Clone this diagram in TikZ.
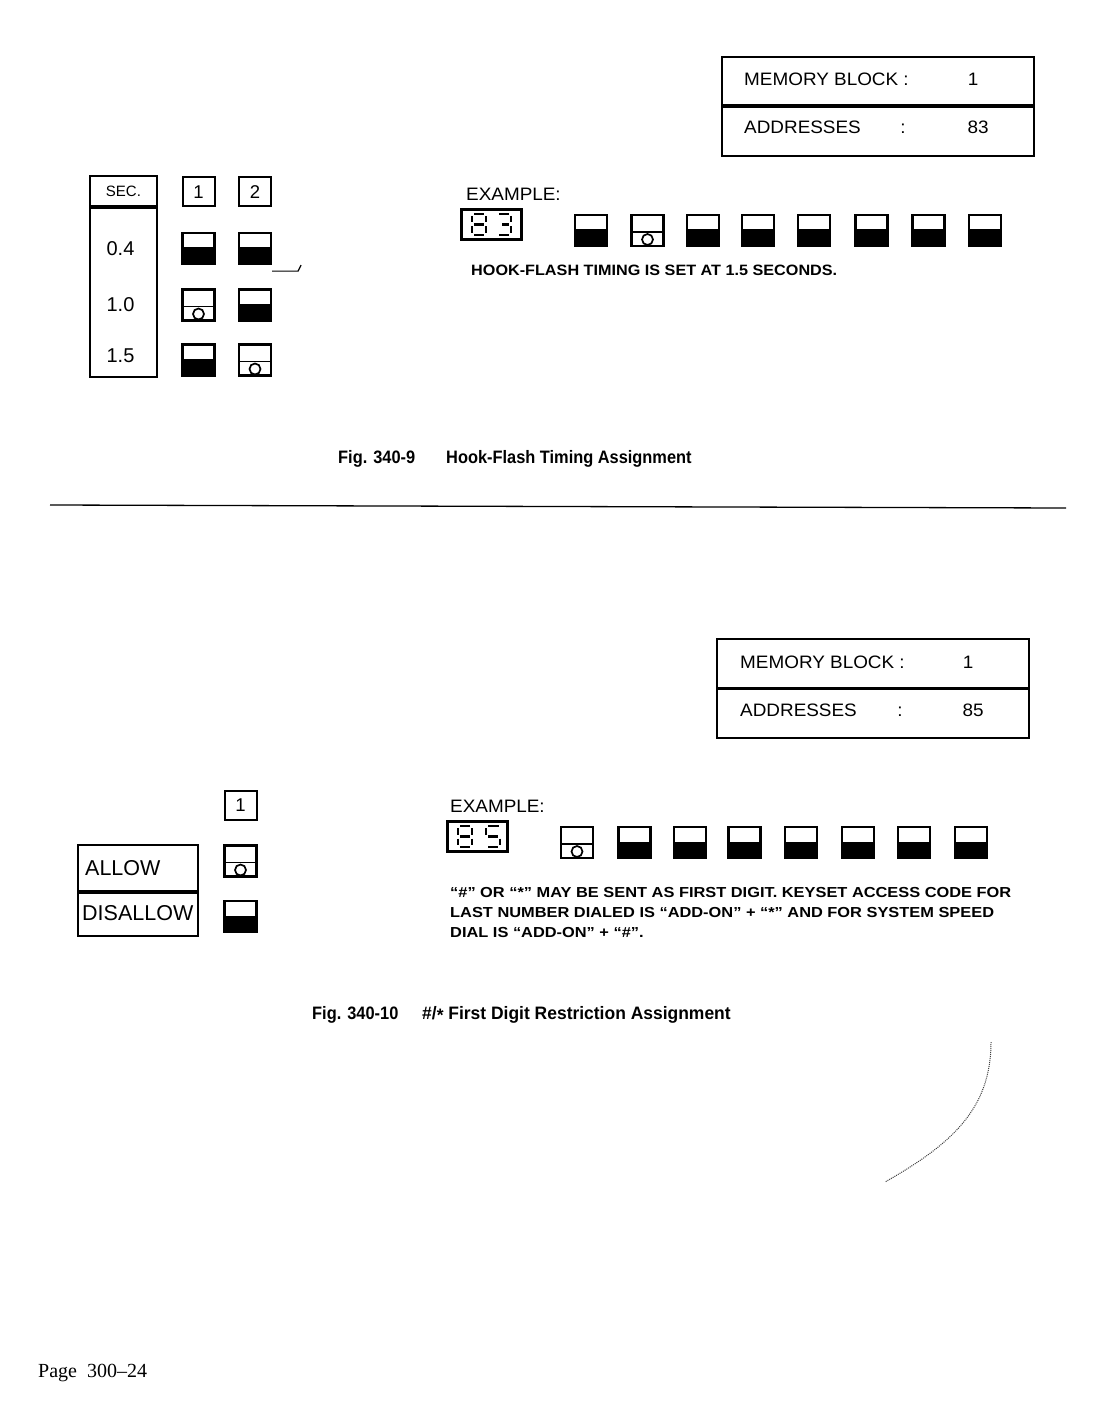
\documentclass[tikz,border=0pt]{standalone}
\usepackage{fontspec}
\setmainfont{Liberation Sans}
\newfontfamily\serifpage{Liberation Serif}
\usetikzlibrary{positioning}

\begin{document}
\begin{tikzpicture}[
  x=1pt, y=-1pt,
  every node/.style={inner sep=0pt},
  lbl/.style={font=\fontsize{18}{21}\selectfont\addfontfeature{FakeStretch=1.05}},
  secval/.style={font=\fontsize{20}{23}\selectfont},
  bigl/.style={font=\fontsize{21.5}{24}\selectfont},
  note/.style={font=\bfseries\fontsize{15}{18}\selectfont\addfontfeature{FakeStretch=1.08}},
  notesm/.style={font=\bfseries\fontsize{14.5}{17}\selectfont\addfontfeature{FakeStretch=1.13}},
  figcap/.style={font=\bfseries\fontsize{18}{21}\selectfont\addfontfeature{FakeStretch=0.91}},
  figcapw/.style={font=\bfseries\fontsize{18}{21}\selectfont\addfontfeature{FakeStretch=0.97}},
  memrow/.style={draw, line width=1.8pt, minimum width=312pt, minimum height=48.5pt},
  tabbox/.style={draw, line width=1.9pt, minimum width=67pt},
  rowbox/.style={draw, line width=1.9pt, minimum width=120pt, minimum height=46pt},
  keybox/.style={draw, line width=2pt, minimum width=32pt, minimum height=29pt, font=\fontsize{18.5}{21}\selectfont},
  swoff/.style={draw, line width=2.2pt, minimum width=32pt, minimum height=31pt,
    path picture={\fill (path picture bounding box.south west) rectangle ([yshift=1pt]path picture bounding box.east);}},
  swon/.style={draw, line width=2.2pt, minimum width=32pt, minimum height=31pt,
    path picture={\draw[line width=1.8pt] ([yshift=-1.5pt]path picture bounding box.west) -- ([yshift=-1.5pt]path picture bounding box.east);
      \draw[line width=1.7pt] ([yshift=-9pt]path picture bounding box.center) circle (5.5pt);}},
  lcd/.style={draw, line width=3pt, minimum width=60pt, minimum height=30pt},
  lcdseg/.style={line width=2.1pt}
]
\path[fill=white, use as bounding box] (0,0) rectangle (1094,1423);

% ---- Fig. 340-9
\node[memrow, anchor=north west] (blk1) at (721,56) {};
\node[memrow, below=0pt of blk1] (adr1) {};
\node[lbl, anchor=base west] (blk1t) at (744,86) {MEMORY BLOCK :};
\node[lbl, anchor=base] (blk1n) at (973,86) {1};
\node[lbl, anchor=base west] (adr1t) at (744,134) {ADDRESSES};
\node[lbl, anchor=base] (adr1c) at (903,134) {:};
\node[lbl, anchor=base] (adr1n) at (978,134) {83};

\node[tabbox, minimum height=30pt, anchor=north west, font=\fontsize{15}{17}\selectfont] (sechead) at (89,175) {SEC.};
\node[tabbox, minimum height=169pt, below=0pt of sechead] (secbody) {};
\node[secval, anchor=base] (v04) at (120.5,255) {0.4};
\node[secval, anchor=base] (v10) at (120.5,311) {1.0};
\node[secval, anchor=base] (v15) at (120.5,362) {1.5};

\node[keybox] (k1) at (198.5,192) {1};
\node[keybox] (k2) at (255,192) {2};
\node[swoff] (s11) at (198.5,248.5) {};
\node[swoff] (s12) at (255,248.5) {};
\node[swon] (s21) at (198.5,305) {};
\node[swoff] (s22) at (255,305) {};
\node[swoff] (s31) at (198.5,360) {};
\node[swon] (s32) at (255,360) {};
\draw[line width=1.2pt] ([yshift=-6pt]s12.south east) -- ++(26,0) -- ++(3,-6);

\node[lbl, anchor=base west] (ex1) at (466,201) {EXAMPLE:};
\node[lcd] (lcd1) at (491,224.5) {};
\draw[lcdseg, shift={(472,214)}] (2,0)--(12,0) (14,2)--(14,8.5) (14,12.5)--(14,19) (2,21)--(12,21) (0,12.5)--(0,19) (0,2)--(0,8.5) (2,10.5)--(12,10.5);
\draw[lcdseg, shift={(497,214)}] (2,0)--(12,0) (14,2)--(14,8.5) (14,12.5)--(14,19) (2,21)--(12,21) (5,10.5)--(12,10.5);
\node[swoff] (e1) at (591,230.5) {};
\node[swon] (e2) at (647.5,230.5) {};
\node[swoff] (e3) at (703,230.5) {};
\node[swoff] (e4) at (758,230.5) {};
\node[swoff] (e5) at (814,230.5) {};
\node[swoff] (e6) at (871.5,230.5) {};
\node[swoff] (e7) at (928.5,230.5) {};
\node[swoff] (e8) at (985,230.5) {};
\node[note, anchor=base west] (hf) at (471,275) {HOOK-FLASH TIMING IS SET AT 1.5 SECONDS.};

\node[figcap, anchor=base west] (fig9) at (338,463) {Fig. 340-9};
\node[figcap, anchor=base west] (fig9t) at (446,463) {Hook-Flash Timing Assignment};

\coordinate (rulel) at (50,505);
\coordinate (ruler) at (1066,508);
\draw[line width=1.3pt] (rulel) -- (ruler);

% ---- Fig. 340-10
\node[memrow, anchor=north west] (blk2) at (716,638) {};
\node[memrow, below=0pt of blk2] (adr2) {};
\node[lbl, anchor=base west] (blk2t) at (740,668) {MEMORY BLOCK :};
\node[lbl, anchor=base] (blk2n) at (968,668) {1};
\node[lbl, anchor=base west] (adr2t) at (740,716) {ADDRESSES};
\node[lbl, anchor=base] (adr2c) at (900,716) {:};
\node[lbl, anchor=base] (adr2n) at (973,716) {85};

\node[keybox] (k3) at (240.5,805.5) {1};
\node[rowbox, anchor=north west] (allow) at (77,844) {};
\node[rowbox, minimum height=43pt, below=0pt of allow] (disallow) {};
\node[bigl, anchor=base west] (allowt) at (85,875) {ALLOW};
\node[bigl, anchor=base west] (disallowt) at (82,920) {DISALLOW};
\node[swon] (sa) at (240.5,861) {};
\node[swoff] (sd) at (240.5,916.5) {};

\node[lbl, anchor=base west] (ex2) at (450,812) {EXAMPLE:};
\node[lcd] (lcd2) at (477.5,836.5) {};
\draw[lcdseg, shift={(458,826)}] (2,0)--(12,0) (14,2)--(14,8.5) (14,12.5)--(14,19) (2,21)--(12,21) (0,12.5)--(0,19) (0,2)--(0,8.5) (2,10.5)--(12,10.5);
\draw[lcdseg, shift={(486,826)}] (2,0)--(13,0) (0,2)--(0,8.5) (2,10.5)--(12,10.5) (14,12.5)--(14,19) (2,21)--(12,21);
\node[swon] (f1) at (577,842.5) {};
\node[swoff] (f2) at (634.5,842.5) {};
\node[swoff] (f3) at (690,842.5) {};
\node[swoff] (f4) at (744.5,842.5) {};
\node[swoff] (f5) at (801,842.5) {};
\node[swoff] (f6) at (858,842.5) {};
\node[swoff] (f7) at (914,842.5) {};
\node[swoff] (f8) at (971,842.5) {};
\node[notesm, anchor=base west] (n1) at (450,897) {“\#” OR “*” MAY BE SENT AS FIRST DIGIT. KEYSET ACCESS CODE FOR};
\node[notesm, anchor=base west] (n2) at (450,917) {LAST NUMBER DIALED IS “ADD-ON” + “*” AND FOR SYSTEM SPEED};
\node[notesm, anchor=base west] (n3) at (450,937) {DIAL IS “ADD-ON” + “\#”.};

\node[figcap, anchor=base west] (fig10) at (312,1019) {Fig. 340-10};
\node[figcapw, anchor=base west] (fig10t) at (422,1019) {\#/\raisebox{-2pt}{*} First Digit Restriction Assignment};

\draw[densely dotted, line width=1pt, black!75] (991,1042) .. controls (991,1110) and (950,1145) .. (885,1182);

\node[font=\serifpage\fontsize{20}{23}\selectfont, anchor=base west] (pg) at (38,1377) {Page\ \ 300–24};
\end{tikzpicture}
\end{document}
